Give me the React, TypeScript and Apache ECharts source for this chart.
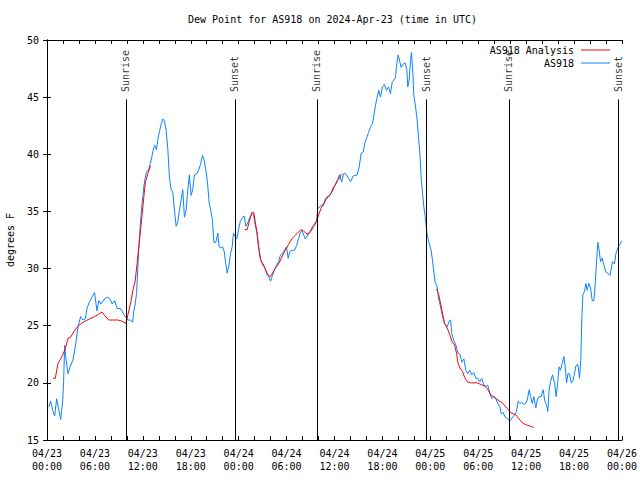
import React, { useEffect, useRef } from "react";
import * as echarts from "echarts";

// hours since 2024-04-23 00:00 UTC, dew point (F)
const blueData: [number, number][] = [
  [0.21, 17.9], [0.46, 18.4], [0.71, 17.6], [0.96, 17.1], [1.21, 18.6], [1.46, 17.7], [1.71, 16.8], [1.96, 18.4],
  [2.08, 20.1], [2.21, 23.3], [2.33, 22.3], [2.63, 20.8], [2.88, 21.4], [3.25, 22.0], [3.58, 23.3], [3.88, 24.9],
  [4.21, 25.8], [4.5, 25.5], [4.79, 25.6], [5.04, 26.6], [5.33, 27.1], [5.63, 27.5], [5.96, 27.9], [6.25, 26.3],
  [6.5, 27.2], [6.79, 26.9], [7.13, 27.3], [7.54, 27.5], [7.83, 27.4], [8.17, 26.9], [8.46, 27.2], [8.79, 26.5],
  [9.21, 26.5], [9.54, 26.1], [9.79, 25.8], [10.13, 25.5], [10.46, 25.5], [10.71, 25.3], [10.88, 26.3], [11.04, 26.9],
  [11.21, 27.8], [11.38, 30.1], [11.5, 31.9], [11.67, 33.7], [11.83, 35.2], [12.0, 36.3], [12.13, 37.2], [12.29, 37.9],
  [12.46, 38.5], [12.71, 38.6], [12.88, 39.1], [13.04, 39.5], [13.25, 40.2], [13.46, 40.8], [13.71, 40.4], [13.88, 41.3],
  [14.08, 42.0], [14.29, 42.6], [14.5, 43.1], [14.71, 42.9], [14.92, 42.1], [15.13, 40.4], [15.33, 38.0], [15.54, 36.9],
  [15.75, 36.7], [15.96, 35.1], [16.17, 33.7], [16.38, 34.1], [16.58, 35.1], [16.79, 36.0], [17.0, 36.9], [17.21, 34.5],
  [17.42, 35.1], [17.63, 36.9], [17.83, 38.2], [18.04, 36.4], [18.25, 36.9], [18.46, 38.2], [18.76, 38.3], [18.97, 38.6],
  [19.22, 39.1], [19.47, 39.9], [19.68, 39.5], [19.89, 38.6], [20.1, 37.5], [20.31, 35.7], [20.51, 35.1], [20.72, 34.2],
  [20.89, 32.3], [21.14, 32.3], [21.39, 33.1], [21.56, 31.9], [21.77, 31.8], [21.98, 31.9], [22.19, 31.5], [22.35, 30.6],
  [22.56, 29.6], [22.81, 30.4], [22.98, 31.3], [23.19, 31.9], [23.35, 33.1], [23.56, 32.8], [23.77, 32.6], [23.98, 33.4],
  [24.19, 34.1], [24.4, 34.4], [24.69, 34.6], [24.9, 33.7], [25.15, 34.0], [25.4, 34.5], [25.65, 34.8], [25.86, 34.7],
  [26.07, 33.8], [26.27, 33.2], [26.48, 32.0], [26.65, 31.2], [26.82, 30.6], [27.07, 30.4], [27.32, 30.0], [27.57, 29.4],
  [27.78, 29.3], [27.99, 28.9], [28.24, 29.4], [28.49, 29.9], [28.74, 30.3], [28.99, 30.6], [29.24, 31.2], [29.49, 31.3],
  [29.74, 31.6], [29.99, 31.9], [30.2, 30.9], [30.41, 31.5], [30.66, 31.6], [31.0, 31.6], [31.24, 32.0], [31.49, 32.6],
  [31.74, 33.2], [31.95, 33.3], [32.16, 32.9], [32.33, 32.6], [32.54, 32.8], [32.74, 33.1], [32.99, 33.3], [33.25, 33.7],
  [33.5, 33.9], [33.75, 34.2], [33.91, 35.3], [34.17, 35.4], [34.41, 35.6], [34.62, 35.5], [34.83, 36.1], [35.08, 36.3],
  [35.33, 36.3], [35.58, 36.6], [35.83, 37.1], [36.09, 37.3], [36.34, 37.6], [36.6, 38.2], [36.9, 37.6], [37.14, 38.3],
  [37.38, 38.3], [37.67, 38.0], [38.0, 37.6], [38.34, 38.1], [38.84, 38.2], [39.09, 38.9], [39.34, 40.1], [39.59, 40.2],
  [39.8, 41.0], [40.01, 41.4], [40.26, 41.9], [40.51, 42.4], [40.76, 42.7], [40.93, 43.4], [41.14, 44.3], [41.34, 45.0],
  [41.55, 45.6], [41.76, 45.0], [42.01, 45.9], [42.26, 46.1], [42.51, 45.6], [42.76, 45.9], [43.01, 45.3], [43.22, 46.3],
  [43.43, 46.5], [43.64, 46.7], [43.76, 47.7], [43.97, 48.7], [44.18, 48.1], [44.35, 47.6], [44.6, 47.9], [44.85, 48.0],
  [45.06, 47.4], [45.18, 45.9], [45.35, 46.5], [45.52, 48.2], [45.64, 48.9], [45.81, 47.1], [45.93, 45.2], [46.14, 44.2],
  [46.35, 43.0], [46.52, 41.5], [46.69, 40.1], [46.85, 38.0], [47.02, 36.6], [47.19, 35.4], [47.36, 34.5], [47.57, 33.1],
  [47.81, 32.3], [48.11, 31.6], [48.27, 30.7], [48.44, 29.7], [48.6, 28.8], [48.86, 28.4], [49.02, 27.4], [49.27, 26.7],
  [49.52, 25.8], [49.78, 25.2], [50.11, 24.9], [50.36, 25.4], [50.53, 25.5], [50.69, 24.3], [50.94, 23.7], [51.2, 23.3],
  [51.45, 22.6], [51.7, 22.5], [51.95, 21.8], [52.2, 22.1], [52.45, 21.1], [52.7, 20.8], [52.95, 21.1], [53.2, 20.7],
  [53.45, 20.9], [53.7, 20.4], [53.95, 20.4], [54.2, 20.1], [54.45, 20.4], [54.7, 19.8], [54.95, 19.7], [55.2, 19.8],
  [55.45, 19.1], [55.7, 18.6], [55.95, 18.8], [56.2, 18.6], [56.45, 18.2], [56.7, 17.9], [56.87, 17.3], [57.12, 17.4],
  [57.37, 17.0], [57.62, 16.9], [57.83, 16.7], [58.04, 16.7], [58.29, 17.0], [58.54, 17.2], [58.79, 17.5], [59.0, 18.4],
  [59.21, 18.2], [59.46, 18.3], [59.71, 18.1], [59.92, 18.2], [60.13, 18.5], [60.38, 19.4], [60.55, 18.8], [60.76, 18.2],
  [60.96, 18.8], [61.21, 17.8], [61.38, 18.5], [61.63, 18.8], [61.88, 18.8], [62.13, 19.4], [62.34, 18.4], [62.55, 18.1],
  [62.71, 17.5], [62.88, 19.4], [63.05, 20.1], [63.3, 20.7], [63.55, 20.0], [63.76, 18.8], [63.97, 20.2], [64.13, 21.4],
  [64.3, 21.1], [64.51, 21.7], [64.72, 22.3], [64.89, 21.4], [65.06, 20.0], [65.23, 20.8], [65.43, 20.8], [65.64, 20.0],
  [65.85, 20.2], [66.06, 20.8], [66.23, 21.5], [66.48, 21.6], [66.68, 20.4], [66.85, 22.1], [66.98, 25.8], [67.1, 27.7],
  [67.31, 28.0], [67.48, 28.7], [67.64, 28.1], [67.85, 28.7], [68.06, 28.3], [68.27, 27.2], [68.48, 27.2], [68.64, 28.6],
  [68.81, 30.6], [68.98, 32.3], [69.14, 31.6], [69.31, 30.6], [69.52, 30.9], [69.73, 30.3], [69.98, 29.7], [70.23, 29.6],
  [70.48, 29.4], [70.65, 30.0], [70.81, 30.6], [71.06, 30.4], [71.23, 31.3], [71.48, 31.8], [71.73, 32.1], [71.95, 32.4],
];

const redSeg1: [number, number][] = [
  [0.75, 20.4], [1.04, 20.4], [1.38, 21.7], [1.71, 22.1], [2.0, 22.5], [2.29, 23.0], [2.63, 23.9], [2.96, 24.0],
  [3.38, 24.5], [3.79, 24.9], [4.29, 25.2], [4.79, 25.4], [5.33, 25.6], [5.96, 25.8], [6.46, 26.0], [6.88, 26.2],
  [7.21, 25.9], [7.71, 25.5], [8.25, 25.5], [8.88, 25.5], [9.38, 25.4], [9.88, 25.2], [10.21, 26.2], [10.54, 27.2],
  [10.75, 28.1], [11.04, 28.9], [11.29, 30.5], [11.5, 31.9], [11.71, 33.4], [11.92, 34.8], [12.13, 36.3], [12.33, 37.6],
  [12.63, 38.3], [12.96, 39.0],
];
const redSeg2: [number, number][] = [
  [24.73, 33.4], [25.06, 33.4], [25.32, 34.1], [25.65, 34.9], [25.9, 34.9], [26.07, 34.1], [26.32, 33.1], [26.48, 32.0],
  [26.73, 30.8], [26.98, 30.4], [27.24, 30.1], [27.49, 29.7], [27.74, 29.4], [27.99, 29.3], [28.24, 29.6], [28.57, 30.0],
  [28.99, 30.4], [29.41, 31.0], [29.82, 31.6], [30.24, 32.1], [30.66, 32.6], [31.07, 32.9], [31.49, 33.2], [31.83, 33.4],
  [32.12, 33.3], [32.41, 33.1], [32.74, 33.0], [33.07, 33.3], [33.41, 33.7], [33.75, 34.1], [34.0, 34.7], [34.33, 35.3],
  [34.67, 35.7], [35.0, 36.1], [35.33, 36.4], [35.67, 36.7], [36.0, 37.2], [36.34, 37.7], [36.6, 37.9], [36.9, 38.3],
];
const redSeg3: [number, number][] = [
  [48.77, 28.2], [49.02, 27.8], [49.27, 27.0], [49.52, 26.1], [49.78, 25.2], [50.11, 24.8], [50.44, 24.2], [50.73, 23.6],
  [51.03, 23.3], [51.28, 22.6], [51.45, 21.8], [51.7, 21.3], [52.03, 21.0], [52.28, 20.5], [52.61, 20.1], [53.03, 20.0],
  [53.45, 20.0], [53.87, 20.0], [54.2, 19.9], [54.53, 19.8], [54.87, 19.7], [55.12, 19.5], [55.37, 19.2], [55.62, 18.9],
  [55.95, 18.8], [56.29, 18.6], [56.62, 18.4], [56.95, 18.3], [57.2, 18.1], [57.45, 17.9], [57.7, 17.7], [58.04, 17.4],
  [58.37, 17.3], [58.7, 17.2], [59.04, 16.9], [59.29, 16.7], [59.54, 16.5], [59.79, 16.4], [60.13, 16.3], [60.55, 16.2],
  [60.96, 16.1],
];

const sunEvents: { h: number; name: string }[] = [
  { h: 9.87, name: "Sunrise" },
  { h: 23.52, name: "Sunset" },
  { h: 33.79, name: "Sunrise" },
  { h: 47.55, name: "Sunset" },
  { h: 57.83, name: "Sunrise" },
  { h: 71.52, name: "Sunset" },
];
const sunLineTop = 44.8;
const sunLabelBase = 45.45;

const yMin = 15;
const yMax = 50;
const xMin = 0;
const xMax = 72;

const FONT = "DejaVu Sans Mono";
const BLUE = "#0a84ff";
const RED = "#ff0000";

function fmtX(h: number): string {
  const day = 23 + Math.floor(h / 24);
  const hh = Math.round(h % 24);
  return `04/${day}\n${String(hh).padStart(2, "0")}:00`;
}

export default function App() {
  const ref = useRef<HTMLDivElement>(null);
  useEffect(() => {
    if (!ref.current) return;
    const chart = echarts.init(ref.current, undefined, { renderer: "svg" });
    const xCommon = {
      type: "value" as const,
      min: xMin,
      max: xMax,
      interval: 6,
      axisLine: { show: true, lineStyle: { color: "#000", width: 1 } },
      axisTick: { show: true, inside: true, length: 4, lineStyle: { color: "#000" } },
      minorTick: { show: true, splitNumber: 3, length: 4, lineStyle: { color: "#000" } },
      splitLine: { show: false },
      minorSplitLine: { show: false },
    };
    const yCommon = {
      type: "value" as const,
      min: yMin,
      max: yMax,
      interval: 5,
      axisLine: { show: true, lineStyle: { color: "#000", width: 1 } },
      axisTick: { show: true, inside: true, length: 4, lineStyle: { color: "#000" } },
      splitLine: { show: false },
    };
    const redStyle = {
      type: "line" as const,
      name: "AS918 Analysis",
      showSymbol: false,
      symbol: "none",
      lineStyle: { color: RED, width: 1 },
      itemStyle: { color: RED },
      z: 3,
    };
    chart.setOption({
      animation: false,
      textStyle: { fontFamily: FONT, color: "#000" },
      title: {
        text: "Dew Point for AS918 on 2024-Apr-23 (time in UTC)",
        left: 188,
        top: 14,
        padding: 0,
        textStyle: { fontFamily: FONT, fontSize: 10, fontWeight: "normal", color: "#000" },
      },
      legend: {
        data: [
          { name: "AS918 Analysis", icon: "rect", itemStyle: { color: RED } },
          { name: "AS918", icon: "rect", itemStyle: { color: BLUE } },
        ],
        orient: "vertical",
        right: 30,
        top: 44,
        padding: 0,
        align: "right",
        itemWidth: 29,
        itemHeight: 1,
        itemGap: 1,
        textStyle: { fontFamily: FONT, fontSize: 10, color: "#000", lineHeight: 12, padding: [0, 2, 0, 0] },
      },
      grid: { left: 47, right: 18, top: 40, bottom: 40, containLabel: false, outerBoundsMode: "none" },
      xAxis: [
        {
          ...xCommon,
          position: "bottom",
          axisLabel: {
            show: true,
            formatter: (v: number) => fmtX(v),
            fontFamily: FONT,
            fontSize: 10,
            color: "#000",
            margin: 7,
            lineHeight: 13,
            showMinLabel: true,
            showMaxLabel: true,
          },
        },
        { ...xCommon, position: "top", axisLabel: { show: false } },
      ],
      yAxis: [
        {
          ...yCommon,
          position: "left",
          name: "degrees F",
          nameLocation: "middle",
          nameGap: 32,
          nameRotate: 90,
          nameTextStyle: { fontFamily: FONT, fontSize: 10, color: "#000" },
          axisLabel: { fontFamily: FONT, fontSize: 10, color: "#000", margin: 8 },
        },
        { ...yCommon, position: "right", axisLabel: { show: false } },
      ],
      series: [
        {
          type: "line",
          name: "sun-lines",
          data: [],
          silent: true,
          markLine: {
            silent: true,
            symbol: "none",
            animation: false,
            label: { show: false },
            lineStyle: { color: "#000", width: 1, type: "solid" },
            emphasis: { disabled: true },
            data: sunEvents.map((e) => [
              { xAxis: e.h, yAxis: yMin },
              { xAxis: e.h, yAxis: sunLineTop },
            ]),
          },
        },
        {
          type: "scatter",
          name: "sun-labels",
          silent: true,
          symbolSize: 1,
          itemStyle: { color: "rgba(0,0,0,0)" },
          data: sunEvents.map((e) => ({ name: e.name, value: [e.h, sunLabelBase] })),
          label: {
            show: true,
            formatter: "{b}",
            position: "inside",
            rotate: 90,
            align: "left",
            verticalAlign: "middle",
            fontFamily: FONT,
            fontSize: 10,
            color: "#000",
          },
        },
        { ...redStyle, data: redSeg1 },
        { ...redStyle, data: redSeg2 },
        { ...redStyle, data: redSeg3 },
        {
          type: "line",
          name: "AS918",
          showSymbol: false,
          symbol: "none",
          data: blueData,
          lineStyle: { color: BLUE, width: 1 },
          itemStyle: { color: BLUE },
          z: 2,
        },
      ],
    });
    return () => chart.dispose();
  }, []);
  return <div ref={ref} style={{ width: 640, height: 480, position: "absolute", left: 0, top: 0 }} />;
}
